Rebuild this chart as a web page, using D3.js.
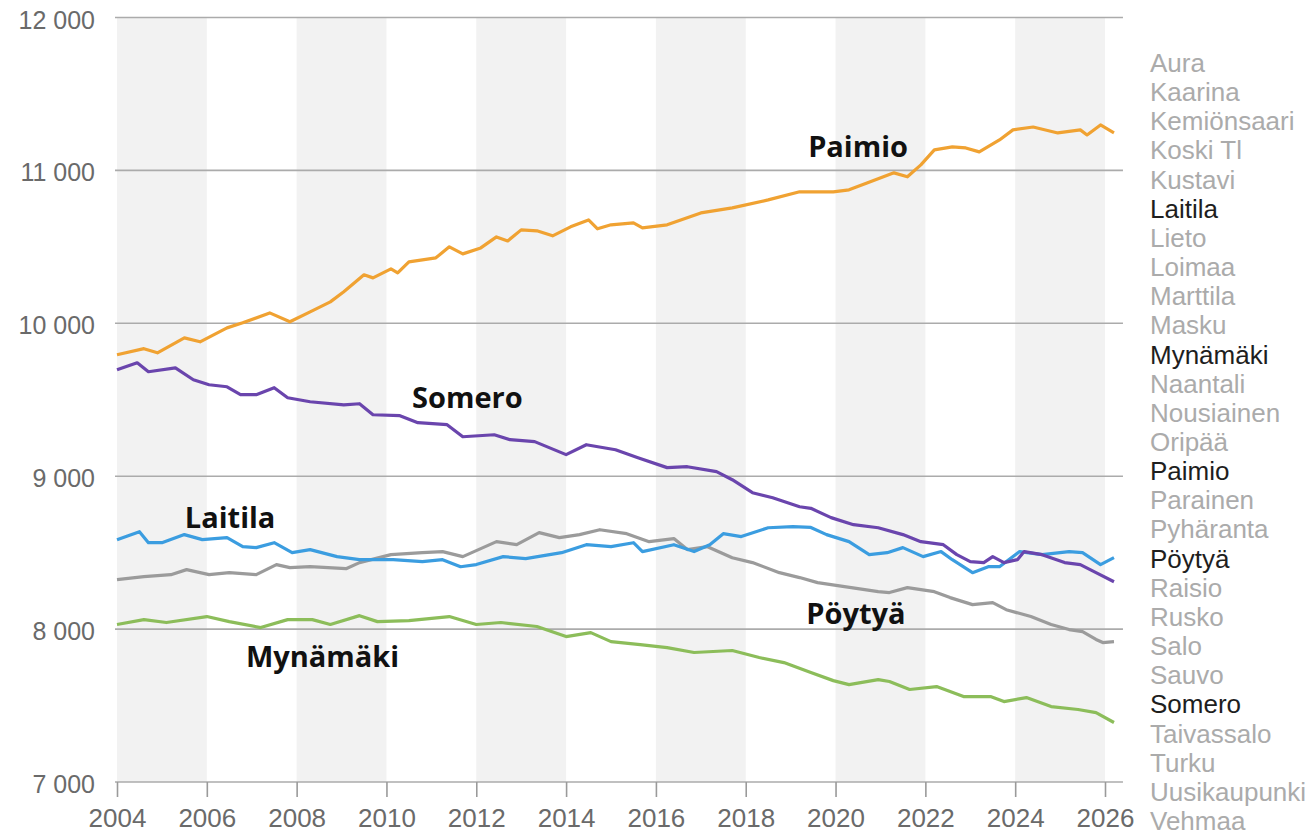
<!DOCTYPE html>
<html>
<head>
<meta charset="utf-8">
<script src="https://cdn.jsdelivr.net/npm/d3@7"></script>
<style>
	body { margin: 0 ; background: #fff ; }
	svg { display: block ; }
</style>
</head>
<body>
<div id="chart"></div>
<script>

const viewWidth = 1312 ;
const viewHeight = 837 ;

// municipalities in the side list, the selected ones are drawn dark
const municipalities = [ "Aura", "Kaarina", "Kemiönsaari", "Koski Tl", "Kustavi", "Laitila", "Lieto", "Loimaa",
	"Marttila", "Masku", "Mynämäki", "Naantali", "Nousiainen", "Oripää", "Paimio", "Parainen", "Pyhäranta",
	"Pöytyä", "Raisio", "Rusko", "Salo", "Sauvo", "Somero", "Taivassalo", "Turku", "Uusikaupunki", "Vehmaa" ] ;
const selected = [ "Laitila", "Mynämäki", "Paimio", "Pöytyä", "Somero" ] ;

const yearTicks = [ 2004, 2006, 2008, 2010, 2012, 2014, 2016, 2018, 2020, 2022, 2024, 2026 ] ;
const valueTicks = [ 7000, 8000, 9000, 10000, 11000, 12000 ] ;

// [ year, population ]
const paimio = [ [2004.0, 9794], [2004.6, 9834], [2004.9, 9807], [2005.5, 9905], [2005.85, 9879], [2006.45, 9970],
	[2006.8, 10003], [2007.4, 10068], [2007.85, 10010], [2008.3, 10075], [2008.75, 10140], [2009.05, 10206],
	[2009.5, 10317], [2009.7, 10297], [2010.1, 10356], [2010.25, 10330], [2010.5, 10402], [2011.1, 10428],
	[2011.4, 10500], [2011.7, 10454], [2012.1, 10493], [2012.45, 10565], [2012.7, 10539], [2013.0, 10611],
	[2013.35, 10605], [2013.7, 10572], [2014.1, 10631], [2014.5, 10676], [2014.7, 10618], [2015.0, 10644],
	[2015.5, 10657], [2015.7, 10624], [2016.25, 10644], [2017.0, 10722], [2017.7, 10755], [2018.5, 10807],
	[2019.2, 10860], [2019.95, 10860], [2020.3, 10873], [2020.7, 10918], [2021.3, 10984], [2021.6, 10958],
	[2021.9, 11036], [2022.2, 11134], [2022.6, 11154], [2022.9, 11147], [2023.2, 11121], [2023.65, 11199],
	[2023.95, 11265], [2024.4, 11284], [2024.95, 11245], [2025.45, 11265], [2025.6, 11232], [2025.9, 11297],
	[2026.2, 11245] ] ;

const somero = [ [2004.0, 9696], [2004.45, 9742], [2004.7, 9683], [2005.3, 9709], [2005.7, 9631], [2006.05, 9598],
	[2006.45, 9585], [2006.75, 9533], [2007.1, 9533], [2007.5, 9579], [2007.8, 9513], [2008.3, 9487],
	[2009.05, 9467], [2009.4, 9474], [2009.7, 9402], [2010.3, 9396], [2010.7, 9350], [2011.35, 9337],
	[2011.7, 9258], [2012.4, 9271], [2012.75, 9239], [2013.3, 9226], [2014.0, 9141], [2014.45, 9206],
	[2015.1, 9173], [2015.6, 9121], [2016.25, 9056], [2016.7, 9062], [2017.35, 9030], [2017.7, 8977],
	[2018.15, 8892], [2018.6, 8859], [2019.2, 8800], [2019.45, 8790], [2019.9, 8729], [2020.4, 8683],
	[2020.95, 8663], [2021.5, 8618], [2021.9, 8572], [2022.4, 8552], [2022.7, 8487], [2023.0, 8441],
	[2023.3, 8435], [2023.5, 8474], [2023.75, 8435], [2024.05, 8454], [2024.2, 8507], [2024.6, 8487],
	[2025.1, 8435], [2025.45, 8422], [2025.8, 8369], [2026.2, 8310] ] ;

const laitila = [ [2004.0, 8585], [2004.5, 8637], [2004.7, 8565], [2005.0, 8565], [2005.5, 8618], [2005.9, 8585],
	[2006.45, 8598], [2006.8, 8539], [2007.1, 8533], [2007.5, 8565], [2007.9, 8500], [2008.3, 8520],
	[2008.9, 8474], [2009.4, 8454], [2010.15, 8454], [2010.8, 8441], [2011.25, 8454], [2011.65, 8408],
	[2012.0, 8422], [2012.6, 8474], [2013.1, 8461], [2013.9, 8500], [2014.45, 8552], [2015.0, 8539],
	[2015.5, 8565], [2015.7, 8507], [2016.4, 8552], [2016.85, 8507], [2017.2, 8552], [2017.5, 8624],
	[2017.9, 8605], [2018.5, 8663], [2019.05, 8670], [2019.45, 8665], [2019.8, 8618], [2020.3, 8572],
	[2020.75, 8487], [2021.15, 8500], [2021.5, 8533], [2021.95, 8474], [2022.35, 8507], [2022.6, 8454],
	[2023.05, 8369], [2023.4, 8408], [2023.65, 8408], [2024.1, 8507], [2024.6, 8487], [2025.2, 8507],
	[2025.5, 8500], [2025.9, 8422], [2026.2, 8467] ] ;

const poytya = [ [2004.0, 8324], [2004.6, 8343], [2005.2, 8356], [2005.55, 8389], [2006.05, 8356], [2006.5, 8369],
	[2007.1, 8356], [2007.55, 8422], [2007.85, 8402], [2008.3, 8408], [2009.1, 8395], [2009.4, 8435],
	[2010.1, 8487], [2010.8, 8500], [2011.25, 8507], [2011.7, 8474], [2012.45, 8572], [2012.9, 8552],
	[2013.4, 8631], [2013.85, 8598], [2014.3, 8618], [2014.75, 8650], [2015.35, 8624], [2015.85, 8572],
	[2016.4, 8592], [2016.7, 8520], [2017.15, 8539], [2017.7, 8467], [2018.15, 8435], [2018.75, 8369],
	[2019.2, 8337], [2019.6, 8304], [2020.2, 8278], [2020.95, 8245], [2021.2, 8239], [2021.6, 8271],
	[2022.2, 8245], [2022.55, 8206], [2023.05, 8160], [2023.5, 8173], [2023.8, 8127], [2024.35, 8082],
	[2024.8, 8030], [2025.2, 7997], [2025.5, 7984], [2025.8, 7932], [2025.95, 7912], [2026.2, 7918] ] ;

const mynamaki = [ [2004.0, 8030], [2004.6, 8062], [2005.1, 8043], [2006.0, 8082], [2006.5, 8049], [2007.2, 8010],
	[2007.8, 8062], [2008.35, 8062], [2008.75, 8030], [2009.4, 8088], [2009.8, 8049], [2010.5, 8056],
	[2011.4, 8082], [2012.0, 8030], [2012.55, 8043], [2013.35, 8017], [2014.0, 7951], [2014.55, 7977],
	[2015.0, 7918], [2015.65, 7899], [2016.25, 7879], [2016.85, 7847], [2017.7, 7860], [2018.3, 7814],
	[2018.85, 7781], [2019.45, 7716], [2019.95, 7663], [2020.3, 7637], [2020.95, 7670], [2021.2, 7657],
	[2021.65, 7605], [2022.25, 7624], [2022.85, 7559], [2023.45, 7559], [2023.75, 7526], [2024.25, 7552],
	[2024.8, 7493], [2025.4, 7474], [2025.8, 7454], [2026.2, 7389] ] ;

const series = [
	{ name: "Pöytyä", values: poytya, color: "#9b9b9b" },
	{ name: "Mynämäki", values: mynamaki, color: "#8cbd5a" },
	{ name: "Laitila", values: laitila, color: "#3b9de0" },
	{ name: "Somero", values: somero, color: "#6a45ad" },
	{ name: "Paimio", values: paimio, color: "#f0a232" }
] ;

// where the bold names sit, in year / population units
const lineLabels = [
	{ name: "Paimio", year: 2019.39, value: 11088 },
	{ name: "Somero", year: 2010.57, value: 9448 },
	{ name: "Laitila", year: 2005.51, value: 8663 },
	{ name: "Pöytyä", year: 2019.35, value: 8036 },
	{ name: "Mynämäki", year: 2006.87, value: 7755 }
] ;


function draw( div ) {

	const svg = d3.select( div ).append( "svg" )
		.attr( "width", viewWidth )
		.attr( "height", viewHeight )
		.attr( "viewBox", "0 0 " + viewWidth + " " + viewHeight )
	;

	const x = d3.scaleLinear().domain( [2004, 2026] ).range( [117, 1105] ) ;
	const y = d3.scaleLinear().domain( [7000, 12000] ).range( [782, 17.5] ) ;
	const xEnd = 2026.4 ;

	const fi = d3.formatLocale( { decimal: ",", thousands: " ", grouping: [3], currency: ["", " €"] } ) ;

	// alternating two year bands
	const bands = yearTicks.filter( function(d, i) { return i % 2 === 0 && d < 2026 ; } ) ;
	svg.append( "g" )
		.selectAll( "rect" )
		.data( bands )
		.enter().append( "rect" )
			.attr( "x", function(d) { return x(d) ; } )
			.attr( "width", function(d) { return x(d + 2) - x(d) ; } )
			.attr( "y", y(12000) )
			.attr( "height", y(7000) - y(12000) )
			.attr( "fill", "#f2f2f2" )
	;

	// horizontal grid
	svg.append( "g" )
		.selectAll( "line" )
		.data( valueTicks )
		.enter().append( "line" )
			.attr( "x1", x(2004) - 2 )
			.attr( "x2", x(xEnd) )
			.attr( "y1", function(d) { return y(d) ; } )
			.attr( "y2", function(d) { return y(d) ; } )
			.attr( "stroke", "#ababab" )
			.attr( "stroke-width", 1.6 )
	;

	const yAxis = svg.append( "g" )
		.attr( "transform", "translate(" + 95 + ",0)" )
		.call( d3.axisLeft( y ).tickValues( valueTicks ).tickSize( 0 ).tickPadding( 0 ).tickFormat( fi.format( ",d" ) ) )
	;
	yAxis.select( ".domain" ).remove() ;
	yAxis.selectAll( "text" )
		.attr( "dy", "0.42em" )
		.attr( "fill", "#6a6a6a" )
		.style( "font-family", "Liberation Sans, Arial, sans-serif" )
		.style( "font-size", "25px" )
	;

	const xAxis = svg.append( "g" )
		.attr( "transform", "translate(0," + y(7000) + ")" )
		.call( d3.axisBottom( x ).tickValues( yearTicks ).tickSize( 15 ).tickPadding( 12 ).tickFormat( d3.format( "d" ) ) )
	;
	xAxis.select( ".domain" ).remove() ;
	xAxis.selectAll( ".tick line" )
		.attr( "stroke", "#9a9a9a" )
		.attr( "stroke-width", 1.6 )
	;
	xAxis.selectAll( "text" )
		.attr( "fill", "#6a6a6a" )
		.style( "font-family", "Liberation Sans, Arial, sans-serif" )
		.style( "font-size", "26px" )
	;

	const line = d3.line()
		.x( function(d) { return x(d[0]) ; } )
		.y( function(d) { return y(d[1]) ; } )
	;

	svg.append( "g" )
		.selectAll( "path" )
		.data( series )
		.enter().append( "path" )
			.attr( "d", function(d) { return line(d.values) ; } )
			.attr( "fill", "none" )
			.attr( "stroke", function(d) { return d.color ; } )
			.attr( "stroke-width", 3.2 )
			.attr( "stroke-linejoin", "round" )
	;

	svg.append( "g" )
		.selectAll( "text" )
		.data( lineLabels )
		.enter().append( "text" )
			.attr( "x", function(d) { return x(d.year) ; } )
			.attr( "y", function(d) { return y(d.value) ; } )
			.attr( "fill", "#111" )
			.style( "font-family", "Open Sans, sans-serif" )
			.style( "font-weight", "bold" )
			.style( "font-size", "29px" )
			.text( function(d) { return d.name ; } )
	;

	// side list of municipalities
	const legendY = d3.scalePoint().domain( municipalities ).range( [72, 830] ) ;
	svg.append( "g" )
		.selectAll( "text" )
		.data( municipalities )
		.enter().append( "text" )
			.attr( "x", 1150 )
			.attr( "y", function(d) { return legendY(d) ; } )
			.attr( "fill", function(d) { return selected.indexOf(d) >= 0 ? "#1e1e1e" : "#ababab" ; } )
			.style( "font-family", "Liberation Sans, Arial, sans-serif" )
			.style( "font-size", "26px" )
			.text( function(d) { return d ; } )
	;
}

draw( document.getElementById( "chart" ) ) ;

</script>
</body>
</html>
